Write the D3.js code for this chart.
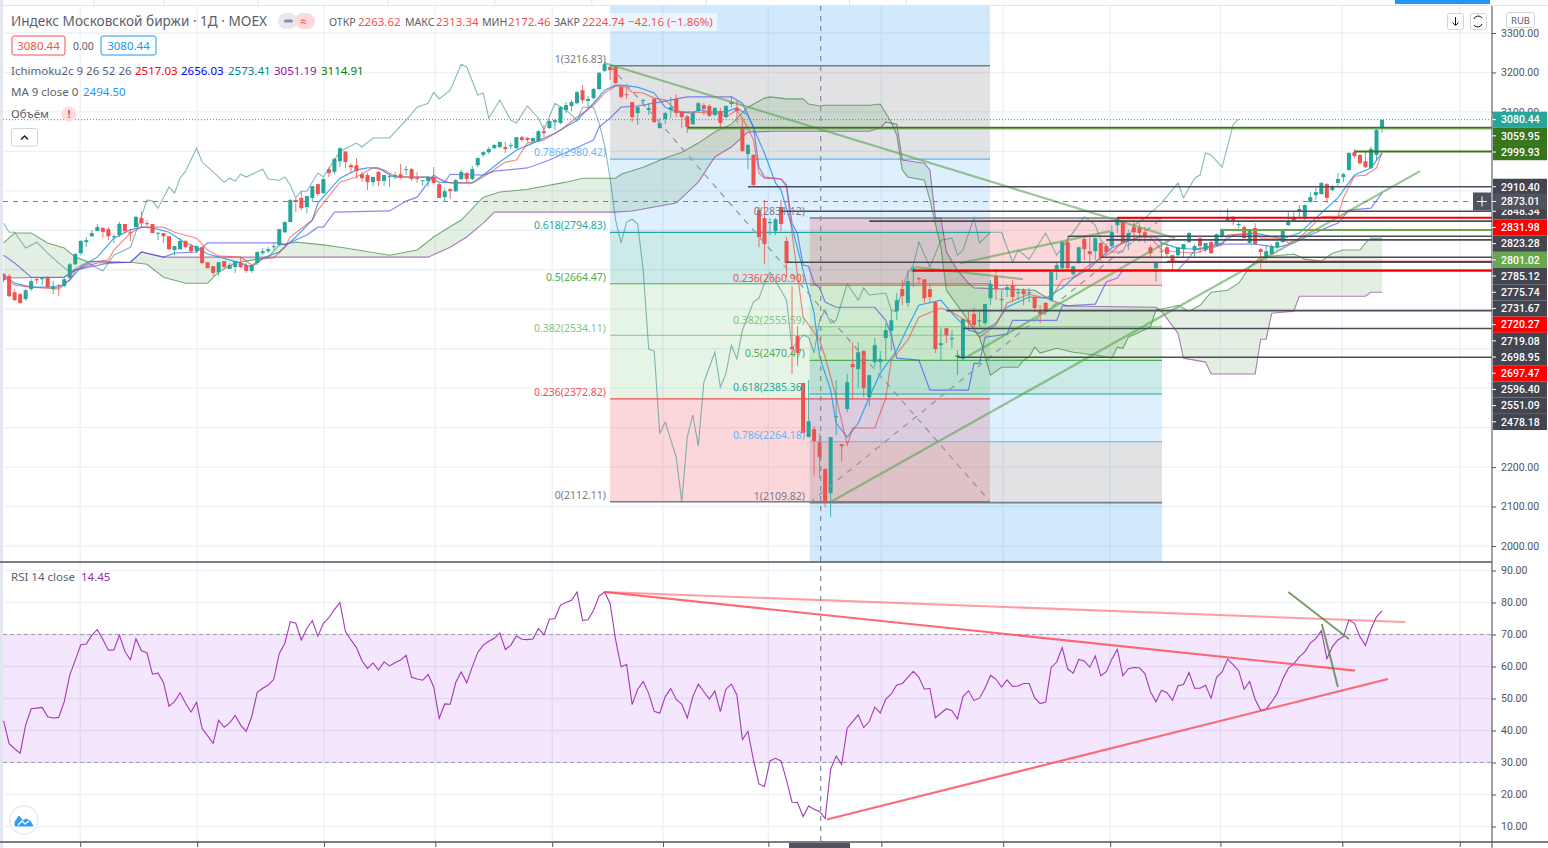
<!DOCTYPE html>
<html><head><meta charset="utf-8">
<script src="https://cdn.jsdelivr.net/npm/d3@7"></script>
<style>html,body{margin:0;padding:0;background:#fff;overflow:hidden}svg{display:block}text{font-family:"Noto Sans",Roboto,sans-serif}</style>
</head><body><svg id="c" width="1548" height="848"></svg>
<script>
const openP=[2689,2684,2643,2638,2626,2651,2676,2676,2681,2651,
2661,2659,2679,2714,2742,2770,2785,2798,2806,2803,
2783,2788,2816,2795,2808,2831,2818,2816,2792,2793,
2785,2750,2752,2773,2760,2747,2757,2719,2709,2694,
2722,2702,2707,2717,2712,2697,2717,2742,2747,2757,
2763,2795,2821,2877,2882,2859,2882,2917,2894,2955,
2948,2975,3000,2965,2965,2942,2940,2922,2948,2925,
2935,2937,2942,2953,2955,2932,2925,2925,2935,2917,
2884,2904,2899,2930,2945,2930,2965,2991,2998,3008,
3011,3011,3013,3008,3036,3034,3026,3026,3051,3059,
3074,3072,3105,3115,3122,3155,3128,3135,3158,3204,
3214,3214,3163,3145,3125,3097,3128,3105,3133,3059,
3082,3105,3133,3100,3089,3069,3102,3117,3115,3092,
3102,3087,3120,3110,3062,2993,2991,2851,2831,2818,
2798,2859,2773,2504,2532,2413,2276,2296,2263,2195,
2134,2327,2258,2347,2461,2448,2494,2377,2466,2466,
2527,2545,2595,2651,2616,2694,2679,2676,2651,2618,
2509,2552,2524,2479,2474,2572,2588,2570,2565,2628,
2684,2623,2651,2661,2641,2648,2641,2631,2595,2616,
2623,2702,2704,2770,2689,2717,2778,2747,2747,2768,
2760,2760,2813,2823,2778,2808,2806,2795,2757,2704,
2745,2757,2737,2737,2752,2770,2750,2780,2750,2770,
2763,2783,2823,2834,2813,2808,2768,2806,2752,2730,
2740,2757,2770,2813,2823,2849,2834,2872,2889,2892,
2917,2902,2920,2935,2953,2998,2991,2975,2958,2991,3059];
const closeP=[2674,2633,2623,2616,2648,2671,2674,2679,2656,2659,
2659,2676,2714,2740,2773,2775,2793,2808,2796,2785,
2785,2816,2798,2793,2834,2818,2816,2793,2794,2785,
2752,2760,2773,2757,2747,2760,2717,2704,2692,2719,
2707,2712,2722,2707,2697,2712,2745,2747,2752,2760,
2803,2821,2877,2874,2856,2887,2912,2892,2930,2945,
2981,3008,2973,2960,2950,2932,2922,2935,2925,2940,
2937,2940,2935,2955,2930,2930,2927,2935,2920,2882,
2899,2899,2927,2948,2930,2955,2983,2998,3006,3016,
3024,3006,3016,3036,3029,3029,3034,3051,3046,3077,
3079,3112,3117,3125,3150,3130,3133,3158,3199,3221,
3206,3173,3138,3143,3087,3112,3130,3110,3074,3072,
3097,3112,3097,3087,3062,3097,3122,3107,3090,3110,
3072,3115,3125,3102,3001,3016,2915,2783,2765,2821,
2828,2816,2717,2499,2489,2286,2316,2266,2225,2111,
2276,2329,2253,2415,2453,2491,2400,2433,2509,2474,
2547,2572,2623,2633,2671,2704,2676,2628,2631,2499,
2514,2534,2527,2484,2575,2567,2560,2572,2613,2664,
2651,2626,2656,2631,2643,2638,2643,2603,2588,2593,
2694,2712,2770,2704,2709,2757,2752,2740,2780,2730,
2745,2796,2831,2768,2793,2795,2793,2785,2742,2719,
2747,2740,2722,2757,2765,2793,2760,2760,2768,2742,
2790,2803,2834,2823,2816,2780,2801,2765,2745,2747,
2760,2770,2801,2823,2834,2854,2864,2884,2897,2920,
2882,2912,2930,2942,2996,2988,2970,2960,3006,3054,3080];
const highP=[2692,2689,2651,2641,2651,2676,2681,2681,2684,2671,
2664,2679,2717,2742,2775,2783,2801,2816,2808,2808,
2790,2821,2816,2803,2836,2849,2826,2816,2794,2793,
2785,2760,2780,2775,2765,2760,2757,2719,2709,2719,
2722,2717,2722,2732,2717,2712,2747,2755,2757,2768,
2803,2823,2879,2879,2899,2887,2912,2917,2932,2960,
2983,3011,3000,2970,2983,2948,2945,2935,2950,2940,
2945,2948,2968,2963,2958,2948,2927,2937,2960,2920,
2907,2907,2930,2953,2948,2963,2986,3001,3011,3019,
3024,3024,3021,3036,3039,3036,3034,3054,3067,3079,
3082,3115,3125,3130,3153,3168,3140,3161,3201,3224,
3219,3219,3163,3160,3125,3115,3133,3122,3135,3084,
3100,3138,3145,3102,3092,3100,3125,3122,3120,3112,
3110,3117,3140,3128,3079,3019,2993,2859,2877,2831,
2831,2877,2783,2659,2557,2413,2420,2304,2286,2197,
2276,2420,2258,2436,2517,2517,2496,2433,2527,2494,
2565,2598,2641,2674,2699,2709,2681,2676,2666,2618,
2552,2552,2547,2496,2575,2595,2605,2598,2613,2674,
2702,2648,2664,2674,2654,2654,2654,2633,2610,2618,
2694,2719,2772,2783,2709,2759,2783,2783,2782,2770,
2765,2813,2834,2825,2801,2826,2818,2808,2763,2720,
2770,2768,2737,2757,2765,2796,2765,2783,2768,2775,
2792,2805,2856,2836,2821,2813,2803,2818,2755,2763,
2765,2775,2803,2846,2846,2864,2866,2897,2907,2922,
2920,2915,2945,2945,2998,3006,2993,2998,3013,3058,3080];
const lowP=[2669,2631,2621,2613,2621,2646,2664,2661,2654,2638,
2633,2656,2676,2712,2737,2757,2783,2798,2783,2775,
2768,2783,2793,2773,2808,2808,2808,2793,2775,2768,
2750,2737,2752,2757,2742,2742,2714,2704,2684,2684,
2702,2702,2692,2704,2692,2692,2712,2737,2742,2750,
2760,2793,2821,2846,2851,2844,2872,2887,2894,2935,
2943,2960,2958,2945,2932,2922,2902,2912,2912,2912,
2910,2930,2930,2940,2925,2920,2912,2910,2915,2882,
2874,2879,2897,2927,2920,2927,2960,2986,2993,3006,
3008,2996,3006,3006,3024,3024,3019,3024,3036,3057,
3054,3069,3097,3102,3120,3122,3110,3133,3155,3201,
3181,3171,3133,3133,3074,3067,3115,3092,3072,3057,
3069,3084,3087,3059,3046,3067,3100,3092,3087,3090,
3062,3085,3112,3072,2998,2955,2910,2757,2714,2788,
2788,2798,2681,2436,2456,2286,2276,2179,2174,2098,
2073,2281,2213,2339,2372,2400,2377,2354,2453,2446,
2471,2496,2572,2610,2605,2656,2666,2616,2618,2489,
2468,2514,2501,2433,2471,2547,2550,2555,2560,2610,
2623,2598,2631,2618,2623,2610,2618,2593,2565,2585,
2620,2674,2702,2699,2684,2715,2725,2707,2725,2717,
2737,2757,2793,2766,2750,2770,2770,2768,2730,2669,
2730,2730,2699,2730,2730,2768,2732,2742,2745,2740,
2760,2780,2821,2813,2806,2775,2766,2763,2702,2725,
2737,2752,2768,2811,2821,2834,2826,2869,2877,2890,
2869,2899,2910,2922,2950,2983,2965,2958,2956,2978,3047];
const rsiValues=[43.0,35.9,34.3,32.9,41.7,46.8,47.0,47.2,44.3,43.9,44.1,49.0,57.3,62.0,66.8,67.0,69.8,71.5,68.5,65.1,
65.2,69.8,64.7,62.1,68.7,64.9,64.3,57.6,57.9,55.0,47.6,49.0,51.8,48.5,45.8,48.8,40.7,38.3,36.0,43.2,
41.0,42.4,44.7,41.7,39.7,44.3,51.9,53.2,54.2,56.0,64.1,67.2,74.0,73.5,68.3,71.9,74.3,69.5,73.5,75.3,
77.8,80.0,70.9,68.3,65.9,61.8,59.4,61.1,58.9,61.5,60.2,61.2,62.0,63.5,56.6,56.1,55.7,57.5,53.7,43.8,
48.3,48.2,55.0,58.3,54.9,59.9,64.4,66.7,67.9,68.8,70.5,65.3,66.7,69.5,68.5,68.4,68.6,71.9,69.9,74.8,
75.0,79.2,80.0,80.7,83.3,74.4,74.6,77.6,82.0,83.3,79.7,68.3,59.9,60.6,48.1,52.9,55.3,51.6,46.0,45.4,
50.6,53.1,49.7,48.2,43.9,50.6,54.5,52.1,49.8,52.3,45.9,52.9,54.5,51.1,37.2,39.7,30.8,23.3,22.5,30.5,
31.3,30.5,24.5,17.6,17.5,13.1,16.4,15.4,14.7,12.5,27.9,32.0,29.4,40.7,42.8,44.9,40.9,42.8,47.3,45.5,
49.8,51.4,54.2,54.7,56.6,58.5,56.6,52.9,53.2,44.0,45.4,46.8,46.2,43.6,50.6,52.4,49.4,50.1,53.2,57.2,
56.0,53.6,55.8,53.8,53.9,54.7,54.7,50.2,48.4,48.9,59.7,61.4,65.9,59.2,57.9,62.2,61.7,59.8,63.3,57.1,
58.4,62.3,65.4,57.1,59.3,59.7,59.6,57.8,52.1,49.0,52.6,51.8,49.4,54.0,54.4,58.1,53.2,53.2,54.1,50.1,
56.6,58.3,62.3,60.6,58.7,52.9,55.3,49.7,46.3,46.7,49.0,51.6,56.1,59.4,60.8,63.0,64.6,67.3,68.7,71.2,
62.4,66.2,68.3,69.3,74.5,73.5,69.3,66.6,71.7,75.5,77.4];
const kijun=[[0,2737],[2,2717],[5,2681],[11,2681],[13,2699],[19,2717],[23,2719],[25,2745],[29,2732],[31,2742],[35,2745],[37,2768],[50,2768],[51,2763],[55,2788],[57,2808],[58,2808],[60,2846],[70,2849],[73,2874],[75,2884],[78,2940],[80,2922],[81,2942],[87,2940],[89,2950],[95,2958],[99,2978],[107,3029],[108,3062],[110,3084],[112,3112],[115,3115],[119,3125],[124,3138],[132,3138],[134,3122],[136,3062],[137,2960],[138,2935],[141,2930],[142,2915],[143,2818],[144,2790],[145,2712],[146,2709],[147,2666],[148,2654],[149,2618],[151,2605],[158,2605],[160,2572],[161,2534],[162,2476],[166,2471],[168,2395],[175,2395],[176,2463],[177,2463],[178,2529],[182,2537],[183,2572],[191,2572],[192,2608],[198,2613],[200,2669],[202,2679],[203,2699],[213,2699],[215,2730],[216,2750],[218,2755],[221,2765],[227,2765],[231,2757],[234,2768],[237,2788],[241,2813],[242,2818],[244,2851],[248,2856],[250,2894]];
const tenkan=[[0,2681],[2,2661],[5,2656],[10,2651],[12,2674],[13,2699],[16,2719],[19,2725],[20,2750],[23,2793],[25,2808],[29,2808],[31,2795],[35,2780],[37,2750],[39,2735],[43,2732],[45,2712],[47,2727],[49,2730],[51,2757],[52,2783],[56,2826],[57,2851],[61,2922],[64,2935],[67,2958],[69,2953],[71,2937],[74,2935],[78,2935],[81,2920],[85,2920],[87,2935],[91,2973],[93,2978],[95,3021],[98,3029],[101,3054],[104,3087],[107,3117],[109,3148],[111,3166],[113,3163],[114,3150],[116,3148],[118,3135],[120,3130],[122,3105],[123,3100],[125,3100],[128,3097],[130,3097],[131,3087],[133,3105],[134,3084],[135,3059],[136,3029],[137,2945],[138,2932],[141,2930],[142,2910],[143,2793],[145,2580],[148,2522],[149,2479],[151,2377],[153,2256],[154,2299],[158,2299],[160,2375],[161,2471],[164,2522],[166,2580],[170,2603],[172,2593],[175,2567],[177,2529],[180,2560],[182,2616],[186,2638],[188,2631],[190,2628],[192,2674],[194,2681],[197,2712],[199,2730],[201,2745],[203,2770],[206,2783],[208,2783],[210,2750],[213,2745],[216,2742],[218,2750],[221,2763],[222,2788],[227,2793],[228,2780],[232,2780],[233,2768],[235,2780],[239,2834],[242,2836],[243,2882],[245,2937],[247,2940],[249,2958],[250,2996]];
const maLine=[[0,2687],[2,2666],[5,2656],[10,2656],[12,2674],[14,2707],[17,2732],[20,2780],[23,2801],[25,2808],[27,2806],[30,2795],[33,2768],[35,2757],[37,2740],[41,2725],[43,2717],[45,2707],[47,2730],[50,2745],[53,2783],[56,2826],[57,2869],[61,2932],[64,2953],[66,2958],[68,2958],[70,2940],[71,2935],[77,2935],[79,2922],[82,2920],[85,2920],[87,2940],[90,2973],[93,3003],[96,3021],[100,3046],[104,3079],[107,3122],[109,3155],[111,3168],[112,3168],[115,3163],[118,3148],[120,3112],[122,3100],[125,3097],[126,3105],[128,3100],[131,3100],[133,3110],[135,3092],[136,3059],[138,2996],[140,2920],[141,2902],[143,2808],[145,2699],[147,2590],[148,2479],[150,2395],[151,2311],[153,2276],[155,2311],[157,2377],[159,2438],[162,2496],[164,2555],[166,2610],[170,2623],[172,2590],[175,2547],[177,2539],[180,2565],[182,2605],[186,2631],[189,2628],[192,2654],[194,2679],[197,2704],[199,2732],[201,2755],[203,2768],[206,2783],[209,2783],[210,2768],[213,2755],[216,2752],[218,2757],[221,2768],[223,2788],[227,2793],[232,2778],[235,2793],[239,2844],[242,2882],[245,2940],[248,2958],[250,2996]];
const lagging=[[0,2818],[1,2795],[2,2795],[4,2755],[6,2770],[8,2742],[10,2717],[12,2694],[15,2719],[18,2697],[20,2737],[23,2757],[25,2834],[26,2877],[27,2874],[28,2856],[30,2910],[31,2894],[32,2932],[33,2950],[35,3008],[36,2973],[38,2948],[40,2922],[41,2932],[42,2925],[43,2942],[44,2935],[47,2955],[48,2930],[50,2927],[51,2935],[52,2915],[53,2882],[54,2899],[55,2899],[57,2945],[58,2935],[61,3000],[64,3021],[65,3011],[67,3034],[70,3034],[73,3079],[75,3112],[77,3122],[78,3150],[79,3133],[81,3155],[83,3221],[84,3214],[86,3143],[87,3148],[88,3084],[90,3130],[92,3079],[93,3072],[95,3115],[97,3084],[98,3054],[100,3122],[102,3105],[103,3092],[104,3077],[105,3112],[107,3112],[108,3072],[109,3016],[110,2932],[111,2826],[112,2768],[113,2821],[114,2828],[115,2816],[116,2699],[117,2499],[118,2494],[119,2286],[120,2314],[122,2225],[123,2111],[124,2276],[125,2332],[126,2253],[127,2415],[129,2491],[130,2403],[131,2436],[132,2509],[133,2474],[134,2547],[136,2618],[137,2628],[138,2666],[139,2694],[141,2648],[142,2623],[143,2501],[145,2534],[146,2529],[147,2489],[148,2572],[149,2598],[150,2565],[151,2572],[153,2664],[155,2623],[156,2654],[157,2636],[160,2641],[161,2598],[162,2593],[163,2656],[164,2692],[165,2712],[166,2770],[168,2707],[170,2775],[172,2780],[173,2737],[174,2750],[176,2831],[177,2768],[179,2795],[181,2795],[183,2719],[184,2750],[186,2727],[189,2793],[191,2737],[196,2834],[198,2813],[199,2775],[201,2745],[203,2745],[205,2813],[207,2831],[210,2869],[213,2920],[214,2882],[216,2932],[217,2940],[218,2996],[219,2991],[221,2960],[223,3067],[224,3082]];
const spanA=[[0,2768],[2,2793],[5,2793],[8,2768],[11,2755],[13,2732],[15,2722],[23,2719],[26,2714],[29,2681],[33,2666],[37,2666],[39,2694],[42,2717],[48,2732],[50,2763],[53,2770],[58,2763],[62,2755],[70,2737],[75,2750],[78,2783],[80,2801],[83,2826],[87,2884],[90,2897],[95,2904],[102,2922],[105,2932],[111,2932],[112,2942],[116,2960],[120,2983],[123,2998],[126,3021],[129,3049],[132,3069],[135,3112],[138,3135],[139,3138],[142,3133],[145,3133],[146,3120],[148,3115],[149,3117],[157,3117],[159,3120],[161,3074],[162,3041],[163,2953],[164,2935],[167,2927],[168,2877],[170,2757],[171,2648],[174,2590],[177,2529],[179,2433],[181,2453],[184,2453],[185,2471],[186,2479],[187,2504],[188,2489],[191,2501],[194,2491],[198,2484],[201,2476],[202,2504],[203,2501],[204,2529],[208,2555],[209,2598],[211,2603],[213,2610],[215,2595],[217,2610],[219,2643],[222,2648],[224,2666],[226,2707],[228,2732],[234,2740],[236,2727],[239,2722],[241,2742],[243,2750],[246,2750],[247,2768],[248,2780],[250,2780]];
const spanB=[[0,2679],[11,2681],[13,2699],[17,2717],[23,2719],[25,2745],[29,2732],[77,2732],[81,2757],[84,2783],[87,2818],[89,2846],[111,2846],[114,2849],[122,2869],[126,2922],[129,2986],[131,3003],[132,3011],[135,3049],[140,3051],[157,3051],[159,3059],[160,3074],[162,3069],[163,2978],[167,2970],[168,2953],[169,2831],[170,2831],[171,2745],[173,2699],[175,2666],[176,2654],[187,2648],[190,2623],[193,2608],[209,2605],[210,2595],[213,2539],[214,2476],[218,2466],[219,2436],[227,2436],[228,2524],[229,2524],[230,2590],[234,2595],[235,2633],[247,2633],[248,2643],[250,2643]];
const priceTicks=[3300,3200,3100,2200,2100,2000];
const gridPrices=[3300,3200,3100,3000,2900,2800,2700,2600,2500,2400,2300,2200,2100,2000];
const rsiTicks=[90,80,70,60,50,40,30,20,10];
const monthBars=[13.9,35.1,58.1,78.3,99.5,119.6,138.7,159.2,181.3,200.7,220.7,242.8,264.1];
const topStripBars=[16.4,29.1,46.1,69.7,89.1,106.7,127.4,153.4,163.7];
const levelPrices=[3059.95,2999.93,2910.40,2848.34,2831.98,2823.28,2801.02,2785.12,2775.74,2731.67,2720.27,2719.08,2698.95,2697.47,2596.40,2551.09,2478.18];
const levelStarts=[124,245,135,141,202,157,221,193,200,199,211,142,165,165,171,174,173];
const levelKinds=["olive","olive","gray","gray","red","gray","lime","gray","gray","gray","red","gray","gray","red","gray","gray","gray"];
const fibALevels=["1","0.786","0.618","0.5","0.382","0.236","0"];
const fibAPrices=[3216.83,2980.42,2794.83,2664.47,2534.11,2372.82,2112.11];
const fibBLevels=["0","0.236","0.382","0.5","0.618","0.786","1"];
const fibBPrices=[2831.12,2660.90,2555.59,2470.47,2385.36,2264.18,2109.82];
const trendGreen=[[[109,3224],[212.5,2780]],[[149.9,2111],[256.9,2950]],[[173.5,2717],[200.7,2798]],[[165.3,2707],[184.9,2676]],[[174.7,2479],[211.5,2775]]];
const fibDiagonals=[[[110,3216.83],[178.9,2112.11]],[[146.2,2109.82],[210.1,2831.12]]];
const rsiRed=[[[109,83.3],[254.2,73.9],0.55],[[109,83.3],[245.1,58.7],0.85],[[149.3,12.2],[251.1,56.1],0.85]];
const rsiGreen=[[[233,83.3],[244,68.6]],[[239.1,73.3],[242,53.6]]];
const lastPrice=3080.44, crossPrice=2873.01, crossBar=148.2;

const W=1548,H=848,axisX=1492,paneTop=6,paneMid=562,paneBot=842;
const UP="#26a69a",DOWN="#ef5350";
const x=d3.scaleLinear().domain([0,250]).range([3.6,1382]);
const y=d3.scaleLinear().domain([3300,2000]).range([33,546]);
const yR=d3.scaleLinear().domain([90,10]).range([570.5,826.5]);
const svg=d3.select("#c");
const defs=svg.append("defs");
defs.append("clipPath").attr("id","pA").append("rect").attr("x",3).attr("y",paneTop).attr("width",axisX-3).attr("height",paneMid-paneTop);
defs.append("clipPath").attr("id","pB").append("rect").attr("x",3).attr("y",paneMid+1).attr("width",axisX-3).attr("height",paneBot-paneMid-1);
const bg=svg.append("g");
bg.append("rect").attr("width",W).attr("height",H).attr("fill","#fff");
bg.append("rect").attr("width",3).attr("height",H).attr("fill","#e4e7f0");
bg.append("rect").attr("x",1395).attr("y",0).attr("width",95).attr("height",4).attr("fill","#2196f3");
bg.append("line").attr("x1",0).attr("x2",W).attr("y1",5.5).attr("y2",5.5).attr("stroke","#e0e3eb");
bg.selectAll(".ts").data(topStripBars).join("line").attr("x1",d=>x(d)).attr("x2",d=>x(d)).attr("y1",0).attr("y2",5).attr("stroke","#dfe2ea");

// grid
const GRID="#edf1f7";
bg.selectAll(".vg").data(monthBars).join("line").attr("x1",d=>x(d)).attr("x2",d=>x(d)).attr("y1",paneTop).attr("y2",paneBot).attr("stroke",GRID).attr("stroke-width",1.4);
bg.selectAll(".hg").data(gridPrices).join("line").attr("x1",3).attr("x2",axisX).attr("y1",d=>y(d)).attr("y2",d=>y(d)).attr("stroke",GRID).attr("stroke-width",1.4);
bg.selectAll(".hr").data(rsiTicks).join("line").attr("x1",3).attr("x2",axisX).attr("y1",d=>yR(d)).attr("y2",d=>yR(d)).attr("stroke",GRID).attr("stroke-width",1.4);

const A=svg.append("g").attr("clip-path","url(#pA)");
const BAND_BLUE="rgba(33,150,243,0.21)",BAND_LBLUE="rgba(33,150,243,0.15)",BAND_RED="rgba(242,54,69,0.2)",BAND_GRAY="rgba(120,123,134,0.22)",
 BAND_TEAL="rgba(0,150,136,0.2)",BAND_GREEN="rgba(76,175,80,0.2)",BAND_LGREEN="rgba(76,175,80,0.14)";
const fibColors={"1":"#787b86","0.786":"#64b5f6","0.618":"#26a69a","0.5":"#4caf50","0.382":"#81c784","0.236":"#ef5350","0":"#787b86"};
function fibBands(i0,i1,prices,fills,top,bot){
  const xa=x(i0),xb=x(i1);
  const edges=[top].concat(prices.map(y),[bot]);
  fills.forEach((f,k)=>{ if(f) A.append("rect").attr("x",xa).attr("width",xb-xa).attr("y",edges[k]).attr("height",edges[k+1]-edges[k]).attr("fill",f); });
}
fibBands(110,178.9,fibAPrices,[BAND_BLUE,BAND_GRAY,BAND_LBLUE,BAND_TEAL,BAND_LGREEN,BAND_LGREEN,BAND_RED],paneTop,y(2112.11));
fibBands(146.2,210.1,fibBPrices,[null,BAND_RED,BAND_LGREEN,BAND_GREEN,BAND_TEAL,BAND_LBLUE,BAND_GRAY,BAND_BLUE],y(2831.12),paneMid);

// cloud
const lineP=d3.line().x(d=>x(d[0])).y(d=>y(d[1]));
A.append("path").attr("d",lineP(spanA.concat(spanB.slice().reverse()))+"Z").attr("fill","rgba(67,140,67,0.14)");

// fib level lines
function fibLines(i0,i1,levels,prices){
  A.selectAll(null).data(prices).join("line").attr("x1",x(i0)).attr("x2",x(i1)).attr("y1",d=>y(d)).attr("y2",d=>y(d))
   .attr("stroke",(d,k)=>fibColors[levels[k]]).attr("stroke-width",(d,k)=>(levels[k]==="1"||levels[k]==="0")?1.6:1.1);
}
fibLines(110,178.9,fibALevels,fibAPrices);
fibLines(146.2,210.1,fibBLevels,fibBPrices);

// indicator lines
[[lagging,"rgba(55,140,140,0.6)",1.1],[spanA,"rgba(50,130,50,0.65)",1.1],[spanB,"rgba(125,45,140,0.6)",1.1],
 [kijun,"rgba(60,60,240,0.6)",1.2],[maLine,"rgba(33,150,243,0.85)",1.2],[tenkan,"rgba(240,60,60,0.6)",1.2]].forEach(s=>{
  A.append("path").attr("d",lineP(s[0])).attr("fill","none").attr("stroke",s[1]).attr("stroke-width",s[2]);
});

// candles
const bars=d3.range(openP.length);
const col=i=>closeP[i]>=openP[i]?UP:DOWN;
A.selectAll(".w").data(bars).join("line").attr("x1",i=>x(i)).attr("x2",i=>x(i)).attr("y1",i=>y(highP[i])).attr("y2",i=>y(lowP[i])).attr("stroke",col).attr("stroke-width",1).attr("opacity",.8);
A.selectAll(".b").data(bars).join("rect").attr("x",i=>x(i)-2).attr("width",4)
 .attr("y",i=>y(Math.max(openP[i],closeP[i]))).attr("height",i=>Math.max(1,Math.abs(y(openP[i])-y(closeP[i])))).attr("fill",col);

// diagonals and trend lines
fibDiagonals.forEach(d=>A.append("path").attr("d",lineP(d)).attr("fill","none").attr("stroke","#9598a1").attr("stroke-width",1.3).attr("stroke-dasharray","6 6"));
trendGreen.forEach(d=>A.append("path").attr("d",lineP(d)).attr("fill","none").attr("stroke","rgba(90,165,80,0.62)").attr("stroke-width",2.2));

// horizontal levels
const kindLine={olive:"#38761d",gray:"#4a4d59",red:"#f00000",lime:"#6aa84f"};
const kindBox={olive:"#38761d",gray:"#434651",red:"#ff0000",lime:"#6aa84f"};
A.selectAll(".lv").data(levelPrices).join("line").attr("x1",(d,k)=>x(levelStarts[k])).attr("x2",axisX).attr("y1",d=>y(d)).attr("y2",d=>y(d))
 .attr("stroke",(d,k)=>kindLine[levelKinds[k]]).attr("stroke-width",(d,k)=>levelKinds[k]==="gray"?1.6:2);
A.append("line").attr("x1",x(124)).attr("x2",axisX).attr("y1",y(3059.95)+1.5).attr("y2",y(3059.95)+1.5).attr("stroke","rgba(120,190,90,0.45)").attr("stroke-width",1.5);

// fib labels
function fibText(levels,prices,right){
  levels.forEach((l,k)=>A.append("text").attr("x",right).attr("y",y(prices[k])-3).attr("text-anchor","end").attr("font-size",10.5)
    .attr("fill",fibColors[l]).text(l+"("+prices[k].toFixed(2)+")"));
}
fibText(fibALevels,fibAPrices,606);
fibText(fibBLevels,fibBPrices,805);

// last price + crosshair horizontal
A.append("line").attr("x1",3).attr("x2",axisX).attr("y1",y(lastPrice)).attr("y2",y(lastPrice)).attr("stroke","#26a69a").attr("stroke-dasharray","1 2").attr("stroke-width",1);
A.append("line").attr("x1",3).attr("x2",axisX).attr("y1",y(crossPrice)).attr("y2",y(crossPrice)).attr("stroke","#7d8088").attr("stroke-dasharray","5 5").attr("stroke-width",1.1);

// RSI pane
const B=svg.append("g").attr("clip-path","url(#pB)");
B.append("rect").attr("x",3).attr("width",axisX-3).attr("y",yR(70)).attr("height",yR(30)-yR(70)).attr("fill","rgba(146,28,237,0.11)");
[70,30].forEach(v=>B.append("line").attr("x1",3).attr("x2",axisX).attr("y1",yR(v)).attr("y2",yR(v)).attr("stroke","#a59cae").attr("stroke-dasharray","4 3"));
const lineR=d3.line().x(d=>x(d[0])).y(d=>yR(d[1]));
B.append("path").attr("d",d3.line().x((d,i)=>x(i)).y(d=>yR(d))(rsiValues)).attr("fill","none").attr("stroke","#a43ab8").attr("stroke-width",1.1);
rsiRed.forEach(d=>B.append("path").attr("d",lineR(d.slice(0,2))).attr("fill","none").attr("stroke","#ff4d5a").attr("stroke-opacity",d[2]).attr("stroke-width",2.1));
rsiGreen.forEach(d=>B.append("path").attr("d",lineR(d)).attr("fill","none").attr("stroke","rgba(90,130,70,0.8)").attr("stroke-width",2));

// crosshair vertical
svg.append("line").attr("x1",x(crossBar)).attr("x2",x(crossBar)).attr("y1",paneTop).attr("y2",paneBot).attr("stroke","#858891").attr("stroke-dasharray","5 5").attr("stroke-width",1.2);

// pane borders
svg.append("line").attr("x1",0).attr("x2",axisX).attr("y1",paneMid).attr("y2",paneMid).attr("stroke","#50535e").attr("stroke-width",1.3);
svg.append("line").attr("x1",0).attr("x2",W).attr("y1",paneBot).attr("y2",paneBot).attr("stroke","#50535e").attr("stroke-width",1.3);
svg.append("line").attr("x1",axisX).attr("x2",axisX).attr("y1",paneTop).attr("y2",H).attr("stroke","#50535e").attr("stroke-width",1.1);

// axes
svg.append("g").attr("transform",`translate(${axisX},0)`).attr("class","ax").call(d3.axisRight(y).tickValues(priceTicks).tickFormat(d3.format(".2f")).tickSize(4).tickPadding(5));
svg.append("g").attr("transform",`translate(${axisX},0)`).attr("class","ax").call(d3.axisRight(yR).tickValues(rsiTicks).tickFormat(d3.format(".2f")).tickSize(4).tickPadding(5));
svg.append("g").attr("transform",`translate(0,${paneBot})`).attr("class","ax").call(d3.axisBottom(x).tickValues(monthBars).tickFormat("").tickSize(5));
svg.selectAll(".ax .domain").remove();
svg.selectAll(".ax line").attr("stroke","#50535e");
svg.selectAll(".ax text").attr("fill","#50535e").attr("font-size",10.5).style("font-family","Roboto,sans-serif");

// stacked price labels
const labels=[{v:lastPrice,c:UP}].concat(levelPrices.map((v,k)=>({v,c:kindBox[levelKinds[k]]})));
let prevY=-1e9;
labels.forEach(l=>{ l.y=Math.max(y(l.v),prevY+16.2); prevY=l.y; });
function priceBox(l){
  const g=svg.append("g");
  g.append("rect").attr("x",axisX+1).attr("y",l.y-8).attr("width",W-axisX-2).attr("height",16.2).attr("fill",l.c);
  g.append("line").attr("x1",axisX).attr("x2",axisX+4).attr("y1",l.y).attr("y2",l.y).attr("stroke","#fff");
  g.append("text").attr("x",axisX+9).attr("y",l.y+3.8).attr("font-size",10.5).attr("font-weight",500).attr("fill","#fff").style("font-family","Roboto,sans-serif").text(l.v.toFixed(2));
}
labels.forEach(priceBox);
priceBox({v:crossPrice,y:y(crossPrice),c:"#50535e"});
svg.append("rect").attr("x",1473).attr("y",y(crossPrice)-9).attr("width",18).attr("height",18).attr("fill","#50535e");
svg.append("path").attr("d",`M1477 ${y(crossPrice)}h10M1482 ${y(crossPrice)-5}v10`).attr("stroke","#fff").attr("fill","none");
svg.append("rect").attr("x",789).attr("y",843).attr("width",61).attr("height",5).attr("fill","#50535e");

// header
function T(tx,ty,s,c,fs,extra){const e=svg.append("text").attr("x",tx).attr("y",ty).attr("fill",c).attr("font-size",fs||11.5).text(s);if(extra)e.attr("text-anchor",extra);return e;}
const GR="#5d606b",RD="#ef5350";
svg.append("rect").attr("x",610).attr("y",13).attr("width",107).attr("height",18).attr("fill","rgba(255,255,255,0.55)");
T(11,26,"Индекс Московской биржи · 1Д · MOEX",GR,13.6);
svg.append("rect").attr("x",278).attr("y",13).attr("width",19).attr("height",16).attr("rx",8).attr("fill","#e6e8ee");
svg.append("rect").attr("x",295).attr("y",13).attr("width",20).attr("height",16).attr("rx",8).attr("fill","#fbd9de");
svg.append("rect").attr("x",284).attr("y",19.5).attr("width",9).attr("height",3).attr("rx",1.5).attr("fill","#8a8d96");
T(300,25,"≈","#ef5350",11);
[["ОТКР",329,"2263.62",358],["МАКС",405,"2313.34",436],["МИН",482,"2172.46",508],["ЗАКР",554,"2224.74",582]].forEach(r=>{T(r[1],26,r[0],GR,10.6);T(r[3],26,r[2],RD,11.5);});
T(628,26,"−42.16 (−1.86%)",RD,11.5);
svg.append("rect").attr("x",12).attr("y",36).attr("width",53).attr("height",19).attr("rx",2).attr("fill","#fff").attr("stroke",RD);
T(38.5,50,"3080.44",RD,11.5,"middle");
T(73,49.5,"0.00",GR,10.5);
svg.append("rect").attr("x",101).attr("y",36).attr("width",55).attr("height",19).attr("rx",2).attr("fill","#fff").attr("stroke","#2196f3");
T(128.5,50,"3080.44","#2196f3",11.5,"middle");
T(11,75,"Ichimoku2c 9 26 52 26",GR,11.5);
[["2517.03",135,"#ff0000"],["2656.03",181,"#0000ff"],["2573.41",228,"#00897b"],["3051.19",274,"#9c0d9c"],["3114.91",321,"#008000"]].forEach(r=>T(r[1],75,r[0],r[2],11.5));
T(11,96,"MA 9 close 0",GR,11.5);
T(83,96,"2494.50","#2196f3",11.5);
T(11,118,"Объём",GR,11.5);
svg.append("circle").attr("cx",69).attr("cy",114).attr("r",7.5).attr("fill","#fbdde0");
T(69,118,"!",RD,11,"middle").attr("font-weight",700);
svg.append("rect").attr("x",11.5).attr("y",128.5).attr("width",26).attr("height",17.5).attr("rx",2).attr("fill","#fff").attr("stroke","#d1d4dc");
svg.append("path").attr("d","M21 139.5l3.5-3.5l3.5 3.5").attr("fill","none").attr("stroke","#131722").attr("stroke-width",1.3);
T(11,581,"RSI 14 close",GR,11.5);
T(81,581,"14.45","#9c27b0",11.5);

// top-right buttons
[1447,1470].forEach(bx=>svg.append("rect").attr("x",bx+.5).attr("y",13.5).attr("width",16).attr("height",16).attr("rx",2).attr("fill","#fff").attr("stroke","#d1d4dc"));
svg.append("path").attr("d","M1455.5 17v8M1452.5 22.5l3 3l3-3").attr("fill","none").attr("stroke","#131722");
svg.append("path").attr("d","M1474 19a4.5 4.5 0 0 1 8-1M1482 24a4.5 4.5 0 0 1-8 1").attr("fill","none").attr("stroke","#131722");
svg.append("rect").attr("x",1506.5).attr("y",12.5).attr("width",28).attr("height",15).attr("rx",2).attr("fill","#fff").attr("stroke","#d1d4dc");
T(1520.5,24,"RUB",GR,9.5,"middle");

// logo
svg.append("circle").attr("cx",24).attr("cy",820).attr("r",14).attr("fill","#fff").attr("stroke","#e8eaf0").attr("stroke-width",1.4);
svg.append("path").attr("d","M15 826v-4l4-6l4 5l3-2l4 2l3 5z").attr("fill","#2e9ff5").attr("stroke","#2e9ff5").attr("stroke-linejoin","round");
svg.append("path").attr("d","M18 825l4-4l3 3l4-3").attr("fill","none").attr("stroke","#fff").attr("stroke-width",1.3);
</script></body></html>
